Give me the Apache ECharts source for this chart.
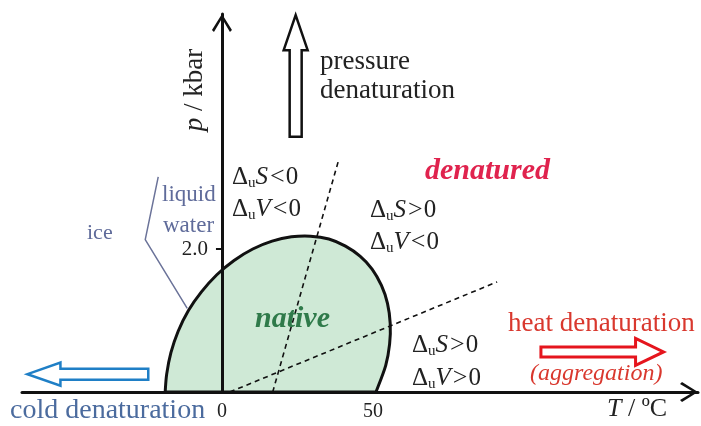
<!DOCTYPE html>
<html>
<head>
<meta charset="utf-8">
<title>Pressure–temperature phase diagram of a protein</title>
<script src="https://cdn.jsdelivr.net/npm/echarts@6.0.0/dist/echarts.min.js"></script>
<style>
  html, body { margin: 0; padding: 0; background: #fff; }
  #chart { width: 701px; height: 426px; }
</style>
</head>
<body>
<div id="chart"></div>
<script>
// ---- data (T in degC, p in kbar) ----
// stability boundary of the native state (closed curve on the T axis)
const nativeBoundary = [
  [-18.8, 0], [-18.3, 0.25], [-16.9, 0.55], [-14.5, 0.85], [-11.1, 1.14],
  [-6.8, 1.40], [-1.7, 1.64], [4.0, 1.84], [10.2, 2.00], [16.6, 2.11],
  [23.0, 2.17], [29.3, 2.18], [35.4, 2.14], [40.9, 2.04], [45.7, 1.90],
  [49.7, 1.72], [52.8, 1.49], [54.8, 1.24], [55.7, 0.96], [55.5, 0.67],
  [54.2, 0.37], [51.0, 0]
];
// dS = 0 and dV = 0 lines
const entropyLine = [[16.8, 0], [38.6, 3.24]];
const volumeLine = [[2.6, 0], [91.1, 1.54]];
// ice / liquid water boundary marker
const iceLine = [[-21.1, 3.01], [-25.4, 2.13], [-11.5, 1.17]];
// direction arrows: [fromT, fromP, toT, toP]
const pressureArrow = [[24.4, 3.57, 24.4, 5.27]];
const coldArrow = [[-24.4, 0.25, -64.4, 0.25]];
const heatArrow = [[105.6, 0.56, 146.2, 0.56]];
// axis ranges and tick labels
const tRange = [-66.2, 157.6];
const pRange = [0, 5.287];
const tTicks = [0, 50];
const pTicks = [2];

// ---- styles ----
const SERIF = '"Liberation Serif", "DejaVu Serif", serif';
const INK = '#222222';
const chevron = 'path://M10,0 L20,16 L18,18 L10,4.5 L2,18 L0,16 Z';
const GRID = { left: 22, right: 3, top: 14, bottom: 34 };
const PLOT_W = 701 - GRID.left - GRID.right;

// closed outline through the boundary points (Catmull-Rom segments)
function smoothOutline(params, api) {
  if (params.dataIndex !== 0) return null;
  const pts = nativeBoundary.map(d => api.coord(d));
  const n = pts.length;
  let d = 'M' + pts[0][0] + ' ' + pts[0][1];
  for (let i = 0; i < n - 1; i++) {
    const p0 = pts[Math.max(i - 1, 0)], p1 = pts[i], p2 = pts[i + 1], p3 = pts[Math.min(i + 2, n - 1)];
    const c1x = p1[0] + (p2[0] - p0[0]) / 6, c1y = p1[1] + (p2[1] - p0[1]) / 6;
    const c2x = p2[0] - (p3[0] - p1[0]) / 6, c2y = p2[1] - (p3[1] - p1[1]) / 6;
    d += ' C' + c1x + ' ' + c1y + ' ' + c2x + ' ' + c2y + ' ' + p2[0] + ' ' + p2[1];
  }
  d += ' Z';
  return {
    type: 'path',
    shape: { pathData: d },
    style: { fill: '#cfe9d6', stroke: '#111111', lineWidth: 3 }
  };
}

function blockArrow(style) {
  return function (params, api) {
    const a = api.coord([api.value(0), api.value(1)]);
    const b = api.coord([api.value(2), api.value(3)]);
    const dx = b[0] - a[0], dy = b[1] - a[1];
    const len = Math.sqrt(dx * dx + dy * dy);
    const ux = dx / len, uy = dy / len;
    const nx = -uy, ny = ux;
    const hx = b[0] - ux * style.head, hy = b[1] - uy * style.head;
    const p = (x, y, k) => [x + nx * k, y + ny * k];
    const pts = [
      p(a[0], a[1], style.shaft), p(hx, hy, style.shaft), p(hx, hy, style.half),
      b, p(hx, hy, -style.half), p(hx, hy, -style.shaft), p(a[0], a[1], -style.shaft)
    ];
    return {
      type: 'polygon',
      shape: { points: pts },
      style: { fill: '#ffffff', stroke: style.color, lineWidth: style.width, lineJoin: 'miter' }
    };
  };
}

function deltaText(sym, rel) {
  return '{d|Δ}{s|u}{i|' + sym + '}{r|' + rel + '}{d|0}';
}
const deltaRich = {
  d: { fontFamily: SERIF, fontSize: 25, lineHeight: 28, fill: INK },
  s: { fontFamily: SERIF, fontSize: 15, lineHeight: 15, verticalAlign: 'bottom', fill: INK },
  i: { fontFamily: SERIF, fontSize: 25, lineHeight: 28, fontStyle: 'italic', fill: INK },
  r: { fontFamily: SERIF, fontSize: 26, lineHeight: 28, fill: INK, padding: [0, 1, 0, 2] }
};

function label(text, x, y, font, fill) {
  return {
    type: 'text', x: x, y: y, z: 20,
    style: { text: text, font: font, fill: fill, align: 'left', verticalAlign: 'middle' }
  };
}
function delta(sym, rel, x, y) {
  return { type: 'text', x: x, y: y, z: 20, style: { text: deltaText(sym, rel), rich: deltaRich, verticalAlign: 'middle' } };
}

const chart = echarts.init(document.getElementById('chart'), null, { renderer: 'canvas' });

const axisLineStyle = { color: '#111111', width: 3 };
// the p axis stands at T = 0
const pAxisShift = PLOT_W * (0 - tRange[0]) / (tRange[1] - tRange[0]);

chart.setOption({
  animation: false,
  backgroundColor: '#ffffff',
  grid: Object.assign({ containLabel: false, outerBoundsMode: 'none' }, GRID),
  xAxis: {
    type: 'value', min: tRange[0], max: tRange[1], z: 10,
    splitLine: { show: false },
    axisLine: {
      onZero: false, lineStyle: axisLineStyle,
      symbol: ['none', chevron], symbolSize: [20, 18], symbolOffset: [0, -9]
    },
    axisTick: { show: false },
    axisLabel: {
      customValues: tTicks, margin: 10,
      fontFamily: SERIF, fontSize: 20, color: INK
    }
  },
  yAxis: {
    type: 'value', min: pRange[0], max: pRange[1], z: 10,
    position: 'left', offset: -pAxisShift,
    splitLine: { show: false },
    axisLine: {
      onZero: false, lineStyle: axisLineStyle,
      symbol: ['none', chevron], symbolSize: [20, 18], symbolOffset: [0, -9]
    },
    axisTick: { customValues: pTicks, length: 6, lineStyle: { color: '#111', width: 2 } },
    axisLabel: {
      customValues: pTicks, margin: 14,
      formatter: v => v.toFixed(1),
      fontFamily: SERIF, fontSize: 21, color: INK
    }
  },
  series: [
    {
      type: 'custom', data: nativeBoundary, z: 2,
      renderItem: smoothOutline
    },
    {
      type: 'line', data: entropyLine, symbol: 'none',
      lineStyle: { color: '#111111', width: 1.6, type: [5, 4] }, z: 3
    },
    {
      type: 'line', data: volumeLine, symbol: 'none',
      lineStyle: { color: '#111111', width: 1.6, type: [5, 4] }, z: 3
    },
    {
      type: 'line', data: iceLine, symbol: 'none',
      lineStyle: { color: '#6b7399', width: 1.5 }, z: 3
    },
    {
      type: 'custom', data: pressureArrow, encode: { x: [0, 2], y: [1, 3] }, z: 4,
      renderItem: blockArrow({ color: '#111111', width: 2.5, head: 35, half: 12, shaft: 6 })
    },
    {
      type: 'custom', data: coldArrow, encode: { x: [0, 2], y: [1, 3] }, z: 4,
      renderItem: blockArrow({ color: '#1f7fc6', width: 2.5, head: 33, half: 11.5, shaft: 5.5 })
    },
    {
      type: 'custom', data: heatArrow, encode: { x: [0, 2], y: [1, 3] }, z: 4,
      renderItem: blockArrow({ color: '#e5151d', width: 3, head: 28, half: 13.5, shaft: 5 })
    }
  ],
  graphic: [
    {
      type: 'text', x: 195, y: 90, rotation: Math.PI / 2, z: 20,
      style: {
        text: '{i|p}{n| / kbar}', align: 'center', verticalAlign: 'middle',
        rich: {
          i: { fontFamily: SERIF, fontSize: 27, fontStyle: 'italic', fill: INK },
          n: { fontFamily: SERIF, fontSize: 27, fill: INK }
        }
      }
    },
    {
      type: 'text', x: 607, y: 409, z: 20,
      style: {
        text: '{i|T}{n| / ºC}', align: 'left', verticalAlign: 'middle',
        rich: {
          i: { fontFamily: SERIF, fontSize: 26, fontStyle: 'italic', fill: INK },
          n: { fontFamily: SERIF, fontSize: 26, fill: INK }
        }
      }
    },
    label('pressure', 320, 62, '27px ' + SERIF, INK),
    label('denaturation', 320, 91, '27px ' + SERIF, INK),
    label('denatured', 425, 171, 'italic bold 30px ' + SERIF, '#e0234e'),
    label('native', 255, 319, 'italic bold 30px ' + SERIF, '#2f7a4a'),
    label('heat denaturation', 508, 324, '27px ' + SERIF, '#d9382e'),
    label('(aggregation)', 530, 374, 'italic 24px ' + SERIF, '#d9382e'),
    label('cold denaturation', 10, 411, '28px ' + SERIF, '#4b6b9e'),
    label('liquid', 162, 195, '23px ' + SERIF, '#5f6b9a'),
    label('water', 163, 226, '23px ' + SERIF, '#5f6b9a'),
    label('ice', 87, 233, '22px ' + SERIF, '#5f6b9a'),
    delta('S', '<', 232, 177),
    delta('V', '<', 232, 209),
    delta('S', '>', 370, 210),
    delta('V', '<', 370, 242),
    delta('S', '>', 412, 345),
    delta('V', '>', 412, 378)
  ]
});
</script>
</body>
</html>
